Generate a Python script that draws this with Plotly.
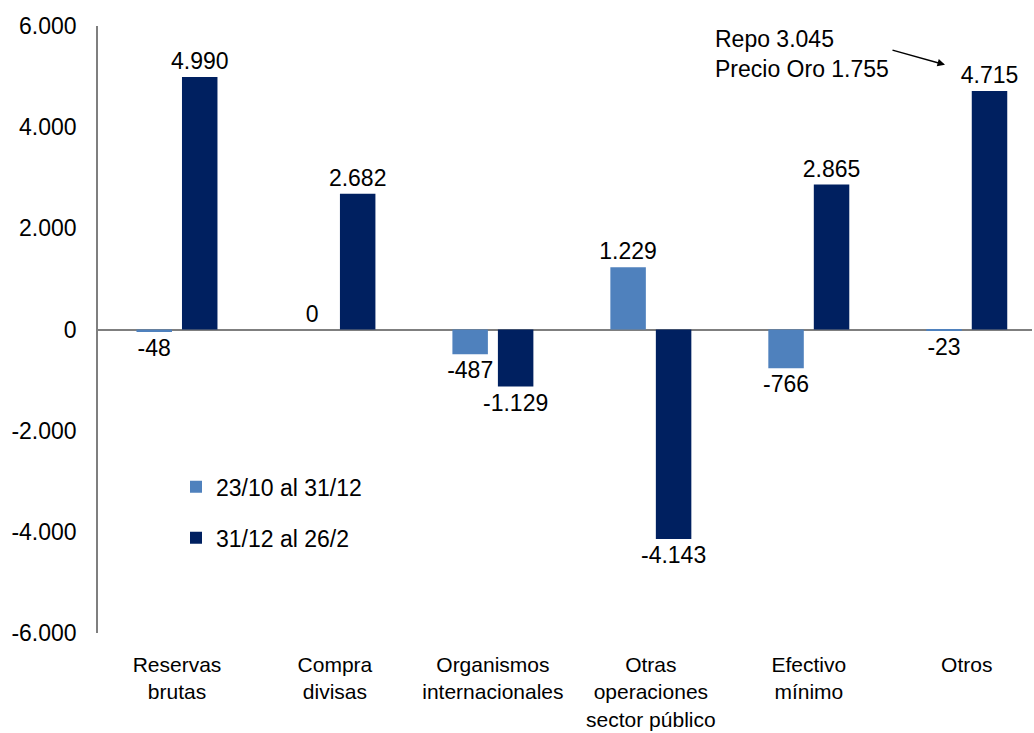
import plotly.graph_objects as go

categories = ["Reservas<br>brutas", "Compra<br>divisas", "Organismos<br>internacionales",
              "Otras<br>operaciones<br>sector público", "Efectivo<br>mínimo", "Otros"]
series_names = ["23/10 al 31/12", "31/12 al 26/2"]
values_a = [-48, 0, -487, 1229, -766, -23]
values_b = [4990, 2682, -1129, -4143, 2865, 4715]
y_tickvals = [-6000, -4000, -2000, 0, 2000, 4000, 6000]
y_ticktext = ["-6.000", "-4.000", "-2.000", "0", "2.000", "4.000", "6.000"]
note_text = "Repo 3.045<br>Precio Oro 1.755"

colors = ["#4f81bd", "#002060"]
FONT = "Liberation Sans, Arial, sans-serif"


def fmt(v):
    return f"{v:,}".replace(",", ".")


fig = go.Figure()
for i, (name, vals) in enumerate(zip(series_names, [values_a, values_b])):
    fig.add_trace(go.Bar(
        x=categories, y=vals, name=name,
        marker=dict(color=colors[i], line=dict(width=0)),
        text=[fmt(v) for v in vals], textposition="outside",
        textfont=dict(family=FONT, size=23, color="black"),
        constraintext="none", cliponaxis=False,
        legendgroup=f"g{i}",
    ))

W, H = 1034, 733
ml, mr, mt, mb = 98, 2, 26, 95
pw, ph = W - ml - mr, H - mt - mb

fig.add_annotation(
    xref="paper", yref="paper", x=(713 - ml) / pw, y=(H - mb - 54) / ph,
    xanchor="left", yanchor="middle", align="left", showarrow=False,
    text=note_text, font=dict(family=FONT, size=23, color="black"),
)
fig.add_annotation(
    xref="paper", yref="paper", x=(945 - ml) / pw, y=(H - mb - 65) / ph,
    axref="pixel", ayref="pixel", ax=-54, ay=-15, text="",
    showarrow=True, arrowhead=2, arrowsize=1, arrowwidth=1.5, arrowcolor="black",
)

fig.update_layout(
    width=W, height=H,
    margin=dict(l=ml, r=mr, t=mt, b=mb, pad=0),
    paper_bgcolor="white", plot_bgcolor="white",
    barmode="group", bargap=0.424, bargroupgap=0.22,
    font=dict(family=FONT, size=23, color="black"),
    showlegend=True,
    legend=dict(
        x=(176 - ml) / pw, y=(H - mb - 469) / ph, xanchor="left", yanchor="top",
        bgcolor="rgba(0,0,0,0)", tracegroupgap=18, itemwidth=30,
        font=dict(family=FONT, size=23, color="black"),
    ),
    xaxis=dict(
        range=[-0.5, 5.413], showgrid=False, showline=False, zeroline=False,
        ticks="", tickfont=dict(family=FONT, size=21, color="black"),
        ticklabelstandoff=17, fixedrange=True,
    ),
    yaxis=dict(
        range=[-6000, 6000], tickvals=y_tickvals, ticktext=y_ticktext,
        showgrid=False, showline=True, linecolor="#7f7f7f", linewidth=1.5,
        zeroline=True, zerolinecolor="#7f7f7f", zerolinewidth=1.5,
        ticks="", ticklabelstandoff=15,
        tickfont=dict(family=FONT, size=23, color="black"), fixedrange=True,
    ),
)

fig.write_html("out.html", config={"displayModeBar": False},
               post_script="document.body.style.margin='0';")
